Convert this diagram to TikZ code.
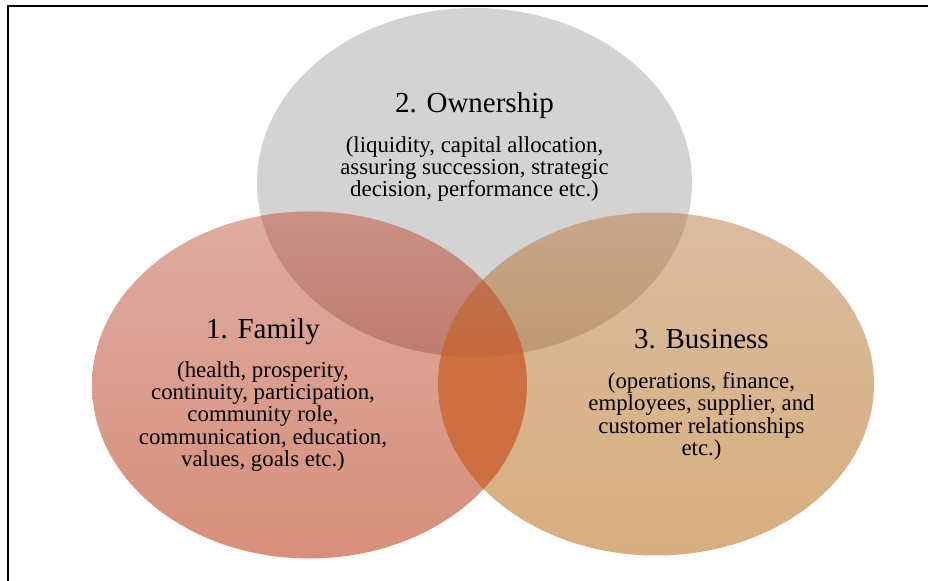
\documentclass[tikz,border=0pt]{standalone}
\usepackage{fontspec}
\setmainfont{Liberation Serif}
\usetikzlibrary{positioning}

\definecolor{ownergray}{RGB}{211,211,211}
\definecolor{familytop}{RGB}{223,171,161}
\definecolor{familybot}{RGB}{214,143,122}
\definecolor{busitop}{RGB}{219,188,160}
\definecolor{busibot}{RGB}{215,174,126}
\definecolor{famowntop}{RGB}{202,144,134}
\definecolor{famownbot}{RGB}{190,124,108}
\definecolor{ownbustop}{RGB}{199,167,140}
\definecolor{ownbusbot}{RGB}{191,153,113}
\definecolor{fambus}{RGB}{205,111,64}
\definecolor{alltop}{RGB}{189,113,78}
\definecolor{allbot}{RGB}{197,104,58}

\tikzset{
  settitle/.style={inner sep=0pt,anchor=base,font=\fontsize{16.5}{18}\selectfont},
  settext/.style={inner sep=0pt,align=center,font=\fontsize{13}{12.7}\selectfont}
}

\def\ownpath{(9.49,7.95) ellipse (4.35 and 3.49)}
\def\fampath{(6.19,3.9) ellipse (4.35 and 3.47)}
\def\buspath{(13.12,3.92) ellipse (4.36 and 3.43)}

\begin{document}
\begin{tikzpicture}
\useasboundingbox (0,0) rectangle (18.56,11.6);
\clip (0,0) rectangle (18.56,11.6);

% Frame (runs off the right and bottom edges)
\draw[line width=1.1pt] (0.16,-1) -- (0.16,11.48) -- (19,11.48);

% Three sets
\fill[ownergray] \ownpath;
\shade[top color=familytop,bottom color=familybot] \fampath;
\shade[top color=busitop,bottom color=busibot] \buspath;

% Overlaps
\begin{scope}
\clip \fampath; \clip \ownpath;
\shade[top color=famowntop,bottom color=famownbot] (1,4.46) rectangle (14,7.37);
\end{scope}
\begin{scope}
\clip \ownpath; \clip \buspath;
\shade[top color=ownbustop,bottom color=ownbusbot] (5,4.46) rectangle (18,7.33);
\end{scope}
\begin{scope}
\clip \fampath; \clip \buspath;
\fill[fambus] (8,0) rectangle (12,7);
\clip \ownpath;
\shade[top color=alltop,bottom color=allbot] (8,4.46) rectangle (12,6.0);
\end{scope}

% Ownership
\node[settitle] (owntitle) at (9.49,9.34) {2. Ownership};
\node[settext,below=0.46cm of owntitle.base] (owntext) {(liquidity, capital allocation,\\assuring succession, strategic\\decision, performance etc.)};

% Family
\node[settitle] (famtitle) at (5.26,4.84) {1. Family};
\node[settext,below=0.46cm of famtitle.base] (famtext) {(health, prosperity,\\continuity, participation,\\community role,\\communication, education,\\values, goals etc.)};

% Business
\node[settitle] (bustitle) at (14.03,4.62) {3. Business};
\node[settext,below=0.46cm of bustitle.base] (bustext) {(operations, finance,\\employees, supplier, and\\customer relationships\\etc.)};
\end{tikzpicture}
\end{document}
